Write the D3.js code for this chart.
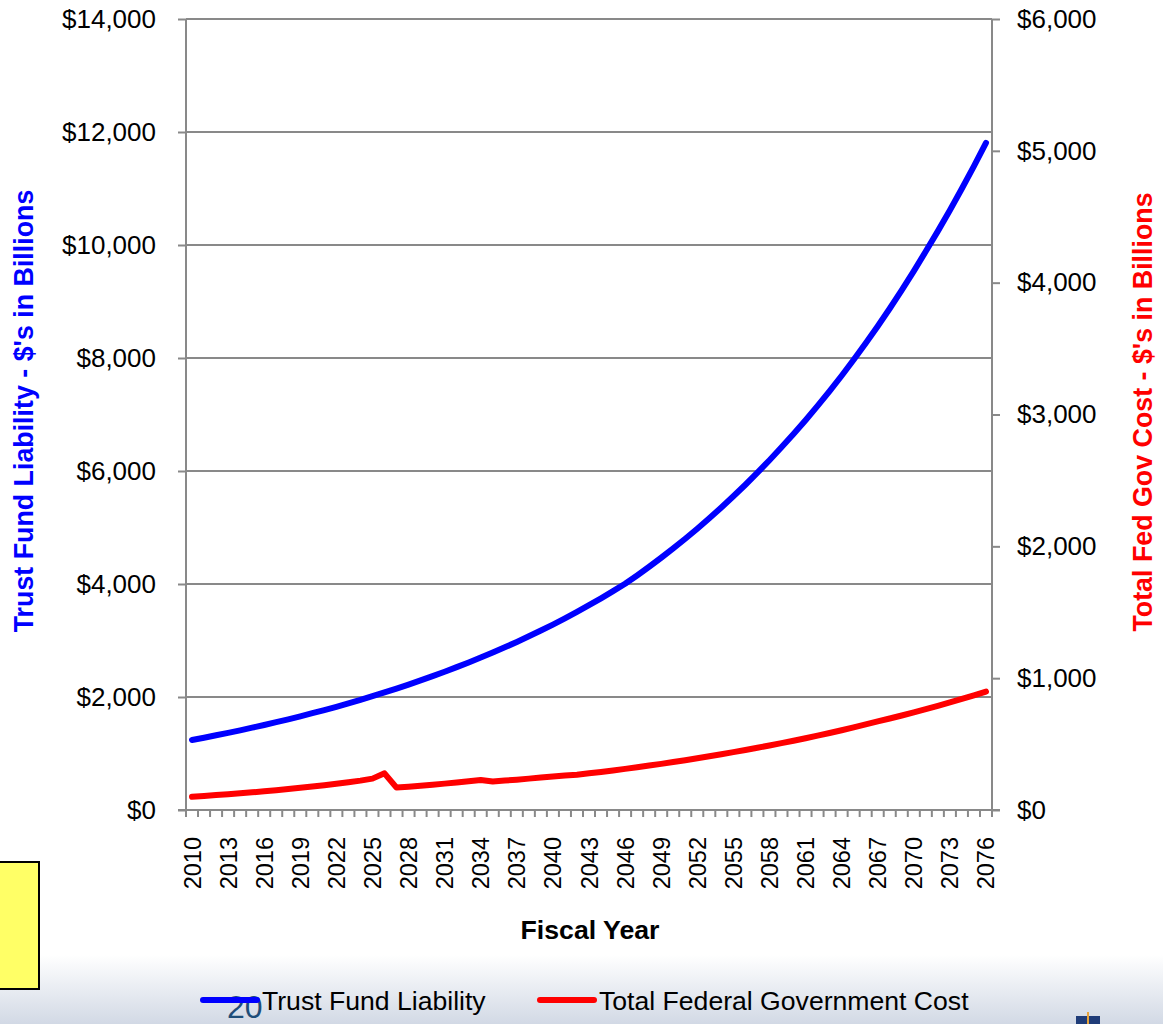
<!DOCTYPE html>
<html>
<head>
<meta charset="utf-8">
<script src="https://cdn.jsdelivr.net/npm/d3@7"></script>
<style>
  body { margin: 0; background: #fff; overflow: hidden; }
  text { font-family: "Liberation Sans", Arial, sans-serif; }
</style>
</head>
<body>
<svg id="chart" width="1163" height="1024"></svg>
<script>
// fiscal years shown on the category axis
var years = d3.range(2010, 2077);

// Trust Fund Liability, $ billions (left axis)
var trustFund = [
  1240, 1280, 1322, 1365, 1410, 1457, 1505, 1554, 1605, 1658,
  1713, 1769, 1827, 1887, 1950, 2014, 2080, 2149, 2220, 2293,
  2369, 2447, 2528, 2612, 2698, 2788, 2880, 2975, 3074, 3176,
  3282, 3392, 3506, 3624, 3746, 3873, 4004, 4152, 4306, 4465,
  4630, 4801, 4979, 5163, 5354, 5552, 5757, 5970, 6191, 6420,
  6655, 6899, 7152, 7414, 7686, 7968, 8260, 8563, 8877, 9202,
  9539, 9889, 10246, 10616, 10999, 11396, 11808
];

// Total Federal Government Cost, $ billions (right axis)
var fedCost = [
  101, 107, 113, 120, 127, 134, 142, 150, 159, 168,
  178, 188, 199, 211, 223, 238, 278, 170, 177, 184,
  192, 200, 209, 218, 228, 216, 223, 230, 238, 246,
  254, 261, 268, 278, 289, 300, 312, 324, 337, 350,
  364, 378, 393, 408, 423, 439, 455, 472, 489, 507,
  525, 544, 564, 584, 605, 627, 649, 672, 694, 717,
  741, 765, 790, 816, 843, 870, 898
];

var leftTicks = [0, 2000, 4000, 6000, 8000, 10000, 12000, 14000];
var rightTicks = [0, 1000, 2000, 3000, 4000, 5000, 6000];
var labelYears = years.filter(function(y) { return (y - 2010) % 3 === 0; });

var svg = d3.select("#chart");
var plotLeft = 186, plotRight = 992, plotTop = 19, plotBottom = 810;
var gray = "#898989";

// bottom band of the slide
var defs = svg.append("defs");
var grad = defs.append("linearGradient").attr("id", "band").attr("x1", 0).attr("y1", 0).attr("x2", 0).attr("y2", 1);
grad.append("stop").attr("offset", "0%").attr("stop-color", "#ffffff");
grad.append("stop").attr("offset", "100%").attr("stop-color", "#d2d9e5");
svg.append("rect").attr("x", 0).attr("y", 955).attr("width", 1163).attr("height", 69).attr("fill", "url(#band)");

var x = d3.scalePoint().domain(years).range([plotLeft, plotRight]).padding(0.5);
var xb = d3.scaleBand().domain(years).range([plotLeft, plotRight]);
var yL = d3.scaleLinear().domain([0, 14000]).range([plotBottom, plotTop]);
var yR = d3.scaleLinear().domain([0, 6000]).range([plotBottom, plotTop]);
var fmt = function(d) { return "$" + d3.format(",")(d); };

// gridlines
svg.append("g").selectAll("line").data(leftTicks.slice(1)).enter().append("line")
  .attr("x1", plotLeft).attr("x2", plotRight)
  .attr("y1", d => yL(d)).attr("y2", d => yL(d))
  .attr("stroke", gray).attr("stroke-width", 2);

// left axis
var gl = svg.append("g").attr("transform", "translate(" + plotLeft + ",0)")
  .call(d3.axisLeft(yL).tickValues(leftTicks).tickFormat(fmt).tickSize(8).tickPadding(22));
gl.select(".domain").attr("stroke", gray).attr("stroke-width", 2).attr("d", "M0," + plotTop + "V" + plotBottom);
gl.selectAll(".tick line").attr("stroke", gray).attr("stroke-width", 2);
gl.selectAll(".tick text").attr("font-size", 26).attr("fill", "#000").attr("font-family", "Liberation Sans, Arial");

// right axis
var gr = svg.append("g").attr("transform", "translate(" + plotRight + ",0)")
  .call(d3.axisRight(yR).tickValues(rightTicks).tickFormat(fmt).tickSize(8).tickPadding(17));
gr.select(".domain").attr("stroke", gray).attr("stroke-width", 2).attr("d", "M0," + plotTop + "V" + plotBottom);
gr.selectAll(".tick line").attr("stroke", gray).attr("stroke-width", 2);
gr.selectAll(".tick text").attr("font-size", 26).attr("fill", "#000").attr("font-family", "Liberation Sans, Arial");

// category axis: ticks between categories
var bounds = years.map(d => xb(d)).concat([plotRight]);
var gx = svg.append("g");
gx.append("line").attr("x1", plotLeft - 8).attr("x2", plotRight + 8).attr("y1", plotBottom).attr("y2", plotBottom)
  .attr("stroke", gray).attr("stroke-width", 2);
gx.selectAll("line.t").data(bounds).enter().append("line").attr("class", "t")
  .attr("x1", d => d).attr("x2", d => d).attr("y1", plotBottom).attr("y2", plotBottom + 7)
  .attr("stroke", gray).attr("stroke-width", 2);
gx.selectAll("text").data(labelYears).enter().append("text")
  .attr("transform", d => "translate(" + (x(d) + 8.5) + "," + (plotBottom + 27) + ") rotate(-90)")
  .attr("text-anchor", "end").attr("font-size", 23.5).text(d => d);

// series
var lineL = d3.line().x((d, i) => x(years[i])).y(d => yL(d));
var lineR = d3.line().x((d, i) => x(years[i])).y(d => yR(d));
svg.append("path").datum(fedCost).attr("d", lineR).attr("fill", "none")
  .attr("stroke", "#ff0000").attr("stroke-width", 6).attr("stroke-linecap", "round").attr("stroke-linejoin", "round");
svg.append("path").datum(trustFund).attr("d", lineL).attr("fill", "none")
  .attr("stroke", "#0000ff").attr("stroke-width", 6).attr("stroke-linecap", "round").attr("stroke-linejoin", "round");

// axis titles
svg.append("text").attr("transform", "translate(33,411) rotate(-90)").attr("text-anchor", "middle")
  .attr("font-size", 26.8).attr("font-weight", "bold").attr("fill", "#0000ff")
  .text("Trust Fund Liability - $'s in Billions");
svg.append("text").attr("transform", "translate(1152,412) rotate(-90)").attr("text-anchor", "middle")
  .attr("font-size", 26.8).attr("font-weight", "bold").attr("fill", "#ff0000")
  .text("Total Fed Gov Cost - $'s in Billions");
svg.append("text").attr("x", 590).attr("y", 939).attr("text-anchor", "middle")
  .attr("font-size", 26.7).attr("font-weight", "bold").text("Fiscal Year");

// yellow note box at left edge
svg.append("rect").attr("x", -10).attr("y", 862).attr("width", 49).attr("height", 127)
  .attr("fill", "#ffff66").attr("stroke", "#000").attr("stroke-width", 2);

// legend
var legend = [
  { name: "Trust Fund Liability", color: "#0000ff", x: 203 },
  { name: "Total Federal Government Cost", color: "#ff0000", x: 540 }
];
svg.append("text").attr("x", 227).attr("y", 1018).attr("font-size", 32).attr("fill", "#1f4e79").text("20");
var lg = svg.selectAll("g.leg").data(legend).enter().append("g").attr("class", "leg");
lg.append("line").attr("x1", d => d.x).attr("x2", d => d.x + 54).attr("y1", 1000).attr("y2", 1000)
  .attr("stroke", d => d.color).attr("stroke-width", 6).attr("stroke-linecap", "round");
lg.append("text").attr("x", d => d.x + 59).attr("y", 1010).attr("font-size", 26.6).text(d => d.name);

// corner logo fragment
svg.append("rect").attr("x", 1076).attr("y", 1016).attr("width", 24).attr("height", 8).attr("fill", "#1f3c78");
svg.append("line").attr("x1", 1088).attr("x2", 1088).attr("y1", 1012).attr("y2", 1024).attr("stroke", "#e8a33a").attr("stroke-width", 2);
</script>
</body>
</html>
